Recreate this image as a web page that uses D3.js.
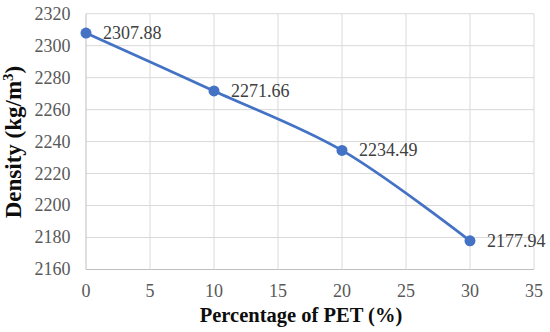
<!DOCTYPE html>
<html><head><meta charset="utf-8">
<script src="https://cdn.jsdelivr.net/npm/d3@7"></script>
<style>body{margin:0;background:#fff;} svg{display:block;}</style>
</head><body>
<svg id="c" width="550" height="332"></svg>
<script>
const pet = [0, 10, 20, 30];
const density = [2307.88, 2271.66, 2234.49, 2177.94];
const xTicks = [0, 5, 10, 15, 20, 25, 30, 35];
const yTicks = [2160, 2180, 2200, 2220, 2240, 2260, 2280, 2300, 2320];

const svg = d3.select("#c");
const x = d3.scaleLinear().domain([0, 35]).range([86, 534]);
const y = d3.scaleLinear().domain([2160, 2320]).range([269.5, 13.7]);
const font = "'Liberation Serif','Times New Roman',serif";
const grid = "#d9d9d9";

svg.append("g").selectAll("line").data(yTicks).join("line")
  .attr("x1", x(0)).attr("x2", x(35)).attr("y1", d => y(d)).attr("y2", d => y(d))
  .attr("stroke", d => d === 2160 ? "#bfbfbf" : grid).attr("stroke-width", 1);
svg.append("g").selectAll("line").data(xTicks).join("line")
  .attr("y1", y(2160)).attr("y2", y(2320)).attr("x1", d => x(d)).attr("x2", d => x(d))
  .attr("stroke", d => d === 0 ? "#bfbfbf" : grid).attr("stroke-width", 1);

svg.append("g").selectAll("text").data(yTicks).join("text")
  .attr("x", 70.5).attr("y", d => y(d)).attr("dy", "0.33em")
  .attr("text-anchor", "end").attr("font-family", font).attr("font-size", 18)
  .attr("fill", "#595959").text(d => d);
svg.append("g").selectAll("text").data(xTicks).join("text")
  .attr("x", d => x(d)).attr("y", 297)
  .attr("text-anchor", "middle").attr("font-family", font).attr("font-size", 18)
  .attr("fill", "#595959").text(d => d);

const pts = pet.map((p, i) => [p, density[i]]);
const line = d3.line().x(d => x(d[0])).y(d => y(d[1])).curve(d3.curveCatmullRom.alpha(0.5));
svg.append("path").datum(pts).attr("d", line).attr("fill", "none")
  .attr("stroke", "#4472C4").attr("stroke-width", 2.8);
svg.append("g").selectAll("circle").data(pts).join("circle")
  .attr("cx", d => x(d[0])).attr("cy", d => y(d[1])).attr("r", 5.5).attr("fill", "#4472C4");
svg.append("g").selectAll("text").data(pts).join("text")
  .attr("x", d => x(d[0]) + 17).attr("y", d => y(d[1])).attr("dy", "0.33em")
  .attr("font-family", font).attr("font-size", 18).attr("fill", "#404040")
  .text(d => d[1].toFixed(2));

svg.append("text").attr("x", 301).attr("y", 322).attr("text-anchor", "middle")
  .attr("font-family", font).attr("font-size", 20.5).attr("font-weight", "bold").attr("fill", "#0d0d0d")
  .text("Percentage of PET (%)");
const yt = svg.append("text").attr("transform", `translate(21,142) rotate(-90)`)
  .attr("text-anchor", "middle").attr("font-family", font).attr("font-size", 23)
  .attr("font-weight", "bold").attr("fill", "#0d0d0d");
yt.append("tspan").text("Density (kg/m");
yt.append("tspan").attr("baseline-shift", "super").attr("font-size", 15).text("3");
yt.append("tspan").text(")");
</script>
</body></html>
